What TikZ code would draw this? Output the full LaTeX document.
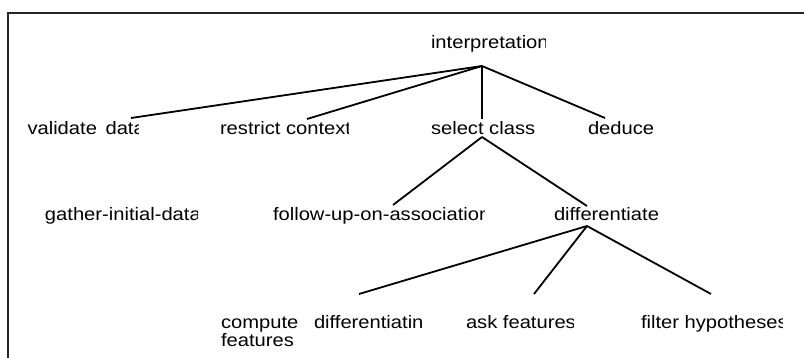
\documentclass[tikz,border=0pt]{standalone}
\usepackage{fontspec}
\setmainfont{Liberation Sans}[FakeStretch=1.12]
\begin{document}
\begin{tikzpicture}[x=1pt,y=-1pt,
  lbl/.style={anchor=base west,inner sep=0pt,outer sep=0pt,
    font=\fontsize{18}{18}\selectfont,text=black},
  link/.style={line width=1.8pt,black},
  frame/.style={line width=1.4pt,black!85}]
\useasboundingbox (0,0) rectangle (804,358);
\clip (0,0) rectangle (804,358);

% outer frame (only the top and left sides fall inside the page)
\draw[frame] (8,360) -- (8,13) -- (806,13);

% ---- labels ----
\begin{scope}\clip (420,20) rectangle (545,60);
  \node[lbl] (interp) at (431,49) {interpretation};
\end{scope}
\begin{scope}\clip (20,110) rectangle (138,145);
  \node[lbl] (valid) at (27.5,135) {validate\hspace{3pt} data};
\end{scope}
\begin{scope}\clip (210,110) rectangle (348,145);
  \node[lbl] (restrict) at (220,135) {restrict context};
\end{scope}
\node[lbl] (select) at (431,135) {select class};
\node[lbl] (deduce) at (588,135) {deduce};
\begin{scope}\clip (40,195) rectangle (197,230);
  \node[lbl] (gather) at (45,221) {gather-initial-data};
\end{scope}
\begin{scope}\clip (265,195) rectangle (484,230);
  \node[lbl] (follow) at (273,221) {follow-up-on-association};
\end{scope}
\node[lbl] (diff) at (554,221) {differentiate};
\node[lbl,align=left] (compute) at (221,347) {compute\\features};
\node[lbl] (difffeat) at (314,329) {differentiatin};
\begin{scope}\clip (455,305) rectangle (573,345);
  \node[lbl] (ask) at (466,329) {ask features};
\end{scope}
\begin{scope}\clip (630,305) rectangle (782,345);
  \node[lbl] (filter) at (641,329) {filter hypotheses};
\end{scope}

% ---- branch points and line ends ----
\coordinate (interp-j) at (482,66);
\coordinate (valid-t) at (131,118);
\coordinate (restrict-t) at (307,119);
\coordinate (select-t) at (482,119);
\coordinate (deduce-t) at (605,118);
\coordinate (select-j) at (482,137);
\coordinate (follow-t) at (393,205);
\coordinate (diff-t) at (587,206);
\coordinate (diff-j) at (587,226);
\coordinate (difffeat-t) at (359,294);
\coordinate (ask-t) at (534,294);
\coordinate (filter-t) at (711,294);

% ---- tree edges ----
\draw[link] (interp-j) -- (valid-t);
\draw[link] (interp-j) -- (restrict-t);
\draw[link] (interp-j) -- (select-t);
\draw[link] (interp-j) -- (deduce-t);
\draw[link] (select-j) -- (follow-t);
\draw[link] (select-j) -- (diff-t);
\draw[link] (diff-j) -- (difffeat-t);
\draw[link] (diff-j) -- (ask-t);
\draw[link] (diff-j) -- (filter-t);
\end{tikzpicture}
\end{document}
